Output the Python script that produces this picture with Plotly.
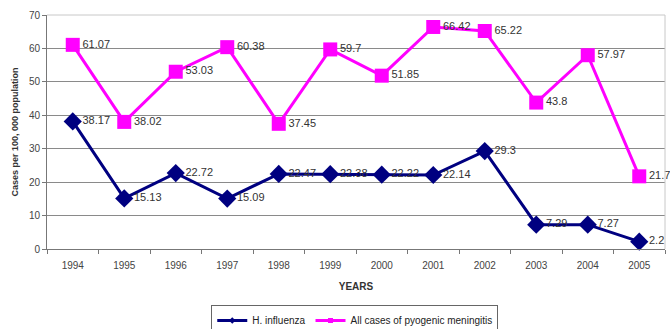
import plotly.graph_objects as go

years = ["1994", "1995", "1996", "1997", "1998", "1999", "2000", "2001", "2002", "2003", "2004", "2005"]
h_influenza = [38.17, 15.13, 22.72, 15.09, 22.47, 22.38, 22.22, 22.14, 29.3, 7.29, 7.27, 2.2]
all_pyogenic = [61.07, 38.02, 53.03, 60.38, 37.45, 59.7, 51.85, 66.42, 65.22, 43.8, 57.97, 21.74]

series = [
    ("H. influenza", h_influenza, "#000080", "diamond"),
    ("All cases of pyogenic meningitis", all_pyogenic, "#FF00FF", "square"),
]

label_font = dict(family="Liberation Sans, Arial, sans-serif", size=11, color="#333333")

fig = go.Figure()
for name, values, color, symbol in series:
    # data line with value labels
    fig.add_trace(go.Scatter(
        x=years, y=values, name=name, showlegend=False,
        mode="lines+markers+text",
        line=dict(color=color, width=3),
        marker=dict(symbol=symbol, size=14, color=color),
        text=[f"{v:g}" for v in values], textposition="middle right",
        textfont=label_font, cliponaxis=False,
    ))
    # compact legend entry with a small marker
    fig.add_trace(go.Scatter(
        x=[None], y=[None], name=name, mode="lines+markers",
        line=dict(color=color, width=3),
        marker=dict(symbol=symbol, size=5, color=color),
    ))

# light frame on the top and right edges of the plot area
fig.add_shape(type="line", xref="paper", yref="paper", x0=0, x1=1, y0=1, y1=1,
              line=dict(color="#c8c8c8", width=1), layer="above")
fig.add_shape(type="line", xref="paper", yref="paper", x0=1, x1=1, y0=0, y1=1,
              line=dict(color="#c8c8c8", width=1), layer="above")

fig.update_layout(
    width=670, height=329,
    margin=dict(l=47, r=5, t=15, b=80, autoexpand=False),
    paper_bgcolor="white", plot_bgcolor="white",
    font=dict(family="Liberation Sans, Arial, sans-serif", size=10, color="#333333"),
    showlegend=True,
    legend=dict(
        orientation="h", x=0.498, xanchor="center",
        yref="container", y=0.073, yanchor="top",
        bordercolor="#666666", borderwidth=1, bgcolor="white",
        font=dict(size=10, color="#222222"),
        itemwidth=30, tracegroupgap=0, itemsizing="trace",
    ),
    xaxis=dict(
        type="category", range=[-0.5, len(years) - 0.5],
        tickson="boundaries", ticks="outside", ticklen=4,
        tickcolor="#777777", showline=True, linecolor="#777777", linewidth=1,
        showgrid=False, tickfont=dict(size=10, color="#444444"),
        ticklabelstandoff=7,
        title=dict(text="<b>YEARS</b>", font=dict(size=10, color="#333333"), standoff=12),
    ),
    yaxis=dict(
        range=[0, 70], dtick=10, ticks="outside", ticklen=4, tickcolor="#777777",
        showline=True, linecolor="#777777", linewidth=1,
        showgrid=True, gridcolor="#8a8a8a", gridwidth=1, zeroline=False,
        tickfont=dict(size=10, color="#444444"),
        title=dict(text="<b>Cases per 100, 000 population</b>",
                   font=dict(size=9, color="#333333"), standoff=8),
    ),
)

fig.write_html("out.html")
